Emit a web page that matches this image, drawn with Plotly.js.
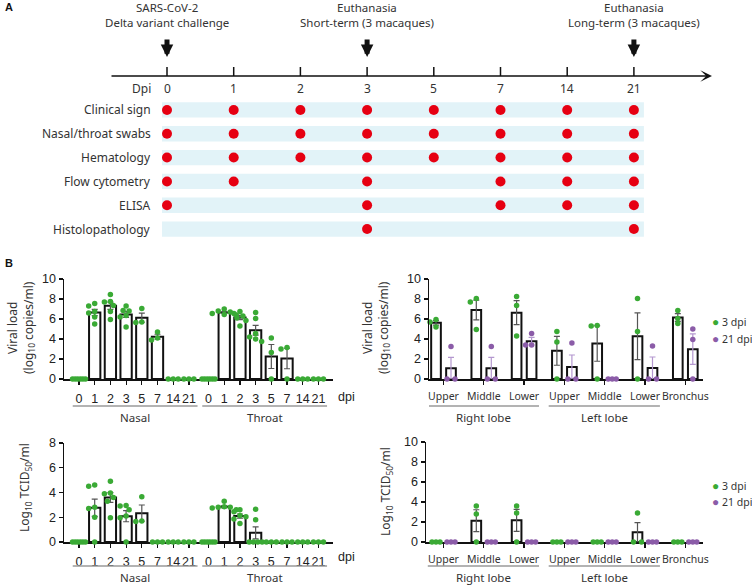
<!DOCTYPE html>
<html>
<head>
<meta charset="utf-8">
<script src="https://cdn.plot.ly/plotly-3.0.1.min.js"></script>
<style>
  html, body { margin: 0; padding: 0; background: #fff; }
  #chart { width: 752px; height: 587px; }
</style>
</head>
<body>
<div id="chart"></div>
<script>
// ---------- Panel A: study schedule ----------
const dpiDays = ["0", "1", "2", "3", "5", "7", "14", "21"];
const assays = ["Clinical sign", "Nasal/throat swabs", "Hematology", "Flow cytometry", "ELISA", "Histolopathology"];
const clinicalDays = ["0", "1", "2", "3", "5", "7", "14", "21"];
const swabDays = ["0", "1", "2", "3", "5", "7", "14", "21"];
const hematologyDays = ["0", "1", "2", "3", "5", "7", "14", "21"];
const flowDays = ["0", "1", "3", "7", "14", "21"];
const elisaDays = ["0", "3", "7", "14", "21"];
const histoDays = ["3", "21"];
const assayDays = [clinicalDays, swabDays, hematologyDays, flowDays, elisaDays, histoDays];
const eventDays = ["0", "3", "21"];
const eventLabels = ["SARS-CoV-2<br>Delta variant challenge", "Euthanasia<br>Short-term (3 macaques)", "Euthanasia<br>Long-term (3 macaques)"];

// ---------- Panel B: swabs ----------
const swabDpi = ["0", "1", "2", "3", "5", "7", "14", "21"];
const swabSites = ["Nasal", "Throat"];
const nasalViralLoad = [
  [0, 0, 0, 0, 0, 0],
  [7.55, 7.3, 6.75, 6.6, 6.2, 5.5],
  [8.45, 7.75, 7.7, 7.35, 6.75, 5.95],
  [7.3, 6.85, 6.8, 6.35, 6.2, 5.2],
  [7.05, 5.7, 5.65],
  [4.7, 4.1, 3.9],
  [0, 0, 0],
  [0, 0, 0],
];
const throatViralLoad = [
  [0, 0, 0, 0, 0, 0],
  [7.0, 6.8, 6.7, 6.55, 6.45, 6.4],
  [6.75, 6.55, 6.3, 6.1, 5.85, 5.3],
  [6.65, 6.05, 4.55, 4.2, 4.0, 3.75],
  [4.1, 2.65, 0],
  [3.15, 3.0, 0],
  [0, 0, 0],
  [0, 0, 0],
];
const nasalTcid50 = [
  [0, 0, 0, 0, 0, 0],
  [4.6, 4.5, 2.8, 2.7, 2.0, 0],
  [4.9, 3.95, 3.9, 3.6, 3.3, 1.95],
  [2.95, 2.9, 2.6, 2.1, 1.95, 0],
  [3.65, 1.7, 1.65],
  [0, 0, 0],
  [0, 0, 0],
  [0, 0, 0],
];
const throatTcid50 = [
  [0, 0, 0, 0, 0, 0],
  [3.3, 2.85, 2.8, 2.8, 2.75, 2.6],
  [2.6, 2.45, 2.15, 2.05, 1.85, 1.5],
  [2.65, 1.8, 0, 0, 0, 0],
  [0, 0, 0],
  [0, 0, 0],
  [0, 0, 0],
  [0, 0, 0],
];

// ---------- Panel B: lung tissues ----------
const lungSites = ["Upper", "Middle", "Lower", "Upper", "Middle", "Lower", "Bronchus"];
const lobeNames = ["Right lobe", "Left lobe"];
const lobeFirst = [0, 3];
const lobeLast = [2, 5];
const timepoints = ["3 dpi", "21 dpi"];
const lungViral3dpi = [[5.95, 5.7, 5.2], [8.05, 7.7, 4.95], [8.25, 7.35, 4.3], [4.75, 3.7, 0], [5.35, 5.3, 0], [8.05, 4.75, 0], [6.85, 6.05, 5.55]];
const lungViral21dpi = [[3.25, 0, 0], [3.25, 0, 0], [4.55, 3.4, 3.4], [3.6, 0, 0], [0, 0, 0], [3.3, 0, 0], [5.0, 3.95, 0]];
const lungTcid3dpi = [[0, 0, 0], [3.6, 2.8, 0], [3.6, 2.9, 0], [0, 0, 0], [0, 0, 0], [2.9, 0, 0], [0, 0, 0]];
const lungTcid21dpi = [[0, 0, 0], [0, 0, 0], [0, 0, 0], [0, 0, 0], [0, 0, 0], [0, 0, 0], [0, 0, 0]];

// ---------- styling ----------
const W = 752, H = 587;
const px = x => x / W;
const py = y => 1 - y / H;
const WORD_FONT = "Noto Sans, sans-serif";
const NUM_FONT = "Liberation Sans, Arial, sans-serif";
const TEXT = "#333";
const RED = "#e60012";
const GREEN = "#3aaa35";
const PURPLE = "#8b5ca8";
const BAND = "#e2f3f8";

const mean = v => v.reduce((a, b) => a + b, 0) / v.length;
const sem = v => {
  const m = mean(v);
  return Math.sqrt(v.reduce((a, b) => a + (b - m) ** 2, 0) / (v.length - 1) / v.length);
};

// spread the dots of one group like a small beeswarm (offsets returned in axis units)
function placeDots(values, xPx, yPx, zeroSpanPx) {
  const zeros = values.filter(v => v === 0).length;
  let zi = 0;
  const placed = [];
  return values.slice().sort((a, b) => b - a).map(v => {
    let off = 0;
    if (v === 0) {
      off = zeros > 1 ? -zeroSpanPx / 2 + zeroSpanPx * zi / (zeros - 1) : 0;
      zi++;
    } else {
      for (let k = 0; k < 12; k++) {
        const c = k === 0 ? 0 : (k % 2 ? -1 : 1) * Math.ceil(k / 2) * 3;
        if (placed.every(p => Math.hypot(p.x - c, (p.v - v) * yPx) >= 5)) { off = c; break; }
      }
      placed.push({ x: off, v });
    }
    return { v, dx: off / xPx };
  });
}

const traces = [];
const shapes = [];
const annotations = [];

function note(text, x, y, opts = {}) {
  annotations.push(Object.assign({
    text, x, y, xref: "paper", yref: "paper", showarrow: false,
    xanchor: "center", yanchor: "middle",
    font: { family: WORD_FONT, size: 12, color: TEXT },
  }, opts));
}

// ---------- Panel A ----------
const dayIndex = d => dpiDays.indexOf(d);
assays.forEach((name, r) => {
  shapes.push({
    type: "rect", xref: "x", yref: "y", layer: "below",
    x0: -0.075, x1: dpiDays.length - 1 + 0.15, y0: r - 0.32, y1: r + 0.32,
    fillcolor: BAND, line: { width: 0 },
  });
  note(name, px(153), r, { yref: "y", xanchor: "right" });
});
traces.push({
  type: "scatter", mode: "markers", xaxis: "x", yaxis: "y", hoverinfo: "skip", showlegend: false,
  x: assayDays.flatMap(days => days.map(dayIndex)),
  y: assayDays.flatMap((days, r) => days.map(() => r)),
  marker: { color: RED, size: 10 },
});
// timeline
annotations.push({
  text: "", x: px(712), y: py(76), xref: "paper", yref: "paper",
  showarrow: true, ax: -602, ay: 0, arrowhead: 3, arrowsize: 1.3, arrowwidth: 1.5, arrowcolor: "#111",
});
dpiDays.forEach((d, i) => {
  shapes.push({ type: "line", xref: "x", yref: "paper", x0: i, x1: i, y0: py(67), y1: py(76), line: { color: "#111", width: 1.5 } });
  note(d, i, py(88), { xref: "x" });
});
note("Dpi", px(153), py(88), { xanchor: "right" });
eventDays.forEach((d, k) => {
  annotations.push({
    text: "", x: dayIndex(d), y: py(57), xref: "x", yref: "paper",
    showarrow: true, ax: 0, ay: -19, arrowhead: 2, arrowsize: 0.5, arrowwidth: 5, arrowcolor: "#111",
  });
  note(eventLabels[k], dayIndex(d), py(15), { xref: "x", font: { family: WORD_FONT, size: 11.5, color: TEXT } });
});
note("<b>A</b>", px(3), py(7), { xanchor: "left", font: { family: NUM_FONT, size: 11, color: "#111" } });
note("<b>B</b>", px(3), py(263), { xanchor: "left", font: { family: NUM_FONT, size: 11, color: "#111" } });

// ---------- Panel B: swab charts ----------
const SWAB_UNIT = 15.7;    // px per dpi slot
const swabPos = (site, i) => site * (swabDpi.length + 0.25) + i;

function swabChart(nasal, throat, xa, ya, yPx) {
  const groups = [nasal, throat];
  const xs = [], means = [], sems = [], dx = [], dy = [];
  groups.forEach((g, s) => g.forEach((vals, i) => {
    const x = swabPos(s, i);
    xs.push(x);
    means.push(mean(vals));
    sems.push(sem(vals));
    placeDots(vals, SWAB_UNIT, yPx, vals.length > 3 ? 13 : 10).forEach(p => { dx.push(x + p.dx); dy.push(p.v); });
  }));
  traces.push({
    type: "bar", xaxis: xa, yaxis: ya, x: xs, y: means, width: 0.72, showlegend: false, hoverinfo: "skip",
    marker: { color: "#fff", line: { color: "#111", width: 2 } },
    error_y: { type: "data", array: sems, visible: true, color: "#555", thickness: 1.2, width: 3 },
  });
  traces.push({
    type: "scatter", mode: "markers", xaxis: xa, yaxis: ya, x: dx, y: dy, cliponaxis: false,
    showlegend: false, hoverinfo: "skip", marker: { color: GREEN, size: 5.5 },
  });
}

// ---------- Panel B: lung charts ----------
const LUNG_UNIT = 40.3;
const PAIR_OFF = 0.186;

function lungChart(early, late, xa, ya, yPx) {
  [early, late].forEach((series, t) => {
    const xs = [], means = [], sems = [], dx = [], dy = [];
    series.forEach((vals, c) => {
      const x = c + (t === 0 ? -PAIR_OFF : PAIR_OFF);
      xs.push(x);
      means.push(mean(vals));
      sems.push(sem(vals));
      placeDots(vals, LUNG_UNIT, yPx, 8).forEach(p => { dx.push(x + p.dx); dy.push(p.v); });
    });
    traces.push({
      type: "bar", xaxis: xa, yaxis: ya, x: xs, y: means, width: 0.24, showlegend: false, hoverinfo: "skip",
      marker: { color: "#fff", line: { color: "#111", width: 2 } },
      error_y: { type: "data", array: sems, visible: true, color: t === 0 ? "#555" : "#b497cf", thickness: 1.2, width: 3 },
    });
    traces.push({
      type: "scatter", mode: "markers", xaxis: xa, yaxis: ya, x: dx, y: dy, cliponaxis: false,
      showlegend: false, hoverinfo: "skip", marker: { color: t === 0 ? GREEN : PURPLE, size: 5.5 },
    });
  });
}

swabChart(nasalViralLoad, throatViralLoad, "x2", "y2", 10);
lungChart(lungViral3dpi, lungViral21dpi, "x3", "y3", 10);
swabChart(nasalTcid50, throatTcid50, "x4", "y4", 99 / 8);
lungChart(lungTcid3dpi, lungTcid21dpi, "x5", "y5", 10);

// group underlines and labels
function groupLine(xa, x0, x1, yLine, label) {
  shapes.push({ type: "line", xref: xa, yref: "paper", x0, x1, y0: py(yLine), y1: py(yLine), line: { color: "#9a9a9a", width: 1.5 } });
  note(label, (x0 + x1) / 2, py(yLine + 11), { xref: xa, font: { family: WORD_FONT, size: 11.5, color: TEXT } });
}
[["x2", 406], ["x4", 566]].forEach(([xa, yl]) => {
  swabSites.forEach((s, g) => groupLine(xa, swabPos(g, 0) - 0.4, swabPos(g, swabDpi.length - 1) + 0.55, yl, s));
  note("dpi", px(336), py(yl - 9), { xanchor: "left", font: { family: NUM_FONT, size: 12.5, color: "#222" } });
});
[["x3", 406], ["x5", 566]].forEach(([xa, yl]) => {
  lobeNames.forEach((s, g) => groupLine(xa, lobeFirst[g] - 0.39, lobeLast[g] + 0.37, yl, s));
});

// y-axis titles
const vlTitle = "Viral load<br>(log<sub>10</sub> copies/ml)";
const tcidTitle = "Log<sub>10</sub> TCID<sub>50</sub>/ml";
note(vlTitle, px(20), py(328), { textangle: -90 });
note(vlTitle, px(375), py(328), { textangle: -90 });
note(tcidTitle, px(25), py(488), { textangle: -90 });
note(tcidTitle, px(386), py(492), { textangle: -90 });

// legends
[[321, 338], [485, 501]].forEach(rows => {
  timepoints.forEach((tp, t) => {
    note(`<span style="color:${t === 0 ? GREEN : PURPLE};font-size:12px">●</span> ${tp}`, px(710), py(rows[t]),
      { xanchor: "left", font: { family: WORD_FONT, size: 10.5, color: TEXT } });
  });
});

// ---------- axes ----------
function valueAxis(top, bottom, max, anchor) {
  return {
    domain: [py(bottom), py(top)], range: [0, max], anchor, dtick: 2, tick0: 0,
    showline: true, linecolor: "#111", linewidth: 1.5, ticks: "outside", ticklen: 4, tickwidth: 1.2, tickcolor: "#111",
    showgrid: false, zeroline: false, fixedrange: true, tickfont: { family: NUM_FONT, size: 12.5, color: "#222" },
  };
}
function catAxis(left, right, zeroPx, unit, anchor, tickvals, ticktext, font) {
  return {
    domain: [px(left), px(right)], range: [(left - zeroPx) / unit, (right - zeroPx) / unit], anchor,
    tickmode: "array", tickvals, ticktext, tickangle: 0, layer: "below traces", ticklabelstandoff: 3,
    showline: true, linecolor: "#111", linewidth: 1.5, ticks: "outside", ticklen: 4, tickwidth: 1.2, tickcolor: "#111",
    showgrid: false, zeroline: false, fixedrange: true, tickfont: font,
  };
}
const swabTickVals = swabSites.flatMap((s, g) => swabDpi.map((d, i) => swabPos(g, i)));
const swabTickText = swabSites.flatMap(() => swabDpi);
const lungTickVals = lungSites.map((s, i) => i);
const swabTickFont = { family: NUM_FONT, size: 12.5, color: "#222" };
const lungTickFont = { family: WORD_FONT, size: 10.5, color: TEXT };

const A_UNIT = 66.7;
const layout = {
  width: W, height: H, margin: { l: 0, r: 0, t: 0, b: 0 },
  paper_bgcolor: "#fff", plot_bgcolor: "rgba(0,0,0,0)", showlegend: false, barmode: "overlay",
  xaxis: { domain: [px(100), px(720)], range: [(100 - 167) / A_UNIT, (720 - 167) / A_UNIT], visible: false, fixedrange: true },
  yaxis: { domain: [py(241), py(98)], range: [assays.length - 0.5, -0.5], visible: false, fixedrange: true },
  xaxis2: catAxis(64, 333, 79, SWAB_UNIT, "y2", swabTickVals, swabTickText, swabTickFont),
  yaxis2: valueAxis(279, 379, 10, "x2"),
  xaxis3: catAxis(429, 703, 443.5, LUNG_UNIT, "y3", lungTickVals, lungSites, lungTickFont),
  yaxis3: valueAxis(279, 379, 10, "x3"),
  xaxis4: catAxis(64, 333, 79, SWAB_UNIT, "y4", swabTickVals, swabTickText, swabTickFont),
  yaxis4: valueAxis(443, 542, 8, "x4"),
  xaxis5: catAxis(426, 703, 443.5, LUNG_UNIT, "y5", lungTickVals, lungSites, lungTickFont),
  yaxis5: valueAxis(442, 542, 10, "x5"),
  shapes, annotations,
};

Plotly.newPlot("chart", traces, layout, { staticPlot: true, displayModeBar: false });
</script>
</body>
</html>
